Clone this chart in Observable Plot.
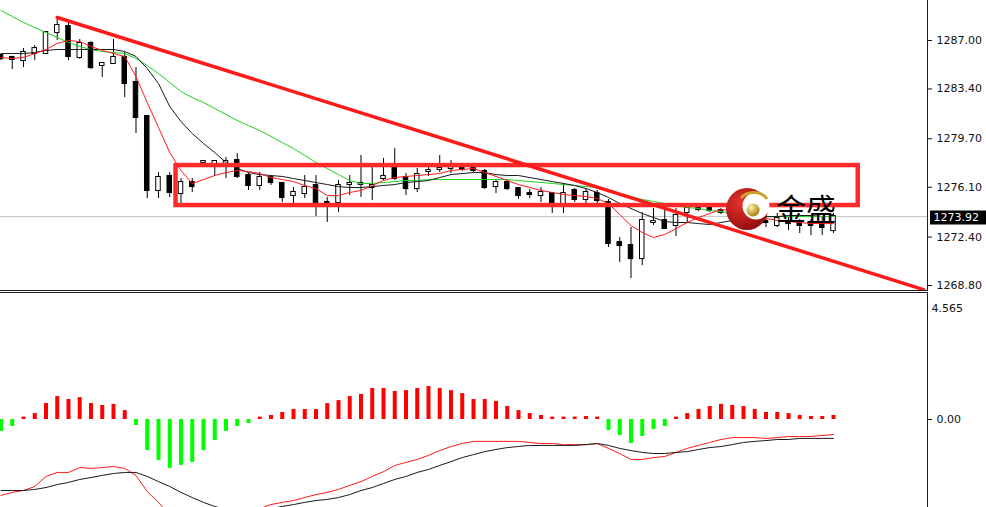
<!DOCTYPE html>
<html><head><meta charset="utf-8">
<script src="https://cdn.jsdelivr.net/npm/d3@7"></script>
<script src="https://cdn.jsdelivr.net/npm/@observablehq/plot@0.6"></script>
<style>
html,body{margin:0;padding:0;background:#fff;}
#wrap{position:relative;width:986px;height:507px;overflow:hidden;background:#fff;}
#top{position:absolute;left:0;top:0;}
#bot{position:absolute;left:0;top:291px;}
#logo{position:absolute;left:0;top:0;pointer-events:none;}
svg{display:block;}
</style></head><body>
<div id="wrap"><div id="top"></div><div id="bot"></div>
<svg id="logo" width="986" height="507">
  <defs>
    <radialGradient id="rg" cx="35%" cy="35%" r="75%"><stop offset="0" stop-color="#e8322e"/><stop offset="1" stop-color="#8a0a0a"/></radialGradient>
    <radialGradient id="gg" cx="35%" cy="30%" r="70%"><stop offset="0" stop-color="#fff6b0"/><stop offset="1" stop-color="#a8820c"/></radialGradient>
  </defs>
  <circle cx="747" cy="209" r="21" fill="url(#rg)"/>
  <circle cx="756" cy="206" r="13.5" fill="#fff"/>
  <path d="M741,198 A15,12 0 0 1 767,199" stroke="#c9a227" stroke-width="3" fill="none"/>
  <circle cx="753" cy="210" r="6.5" fill="url(#gg)"/>
  <text x="776" y="220" font-family="Noto Sans CJK SC" font-size="30" fill="#000">金盛</text>
</svg>
</div>
<script>
// ---- price candles (index 0..74) ----
const opens = [1285.88,1285.74,1285.51,1286.03,1286.03,1287.59,1288.04,1285.74,1286.78,1285.14,
1285.29,1285.74,1283.88,1281.35,1275.86,1276.90,1275.63,1276.45,1277.94,1277.71,
1277.79,1278.08,1276.97,1276.23,1276.82,1276.38,1275.48,1275.63,1276.23,1274.96,
1274.96,1276.30,1276.30,1276.08,1276.75,1277.49,1276.82,1276.00,1277.27,1277.42,
1277.49,1277.49,1277.49,1277.27,1276.15,1276.45,1276.00,1275.63,1275.48,1275.63,
1274.89,1275.86,1275.19,1275.63,1274.96,1271.99,1271.77,1270.80,1273.48,1273.63,
1273.26,1274.22,1274.52,1274.52,1274.37,1274.30,1274.15,1274.07,1273.55,1273.26,
1273.55,1273.48,1273.40,1273.48,1272.88];
const highs = [1285.96,1285.81,1286.40,1286.63,1287.67,1288.71,1288.34,1287.07,1286.92,1285.36,
1287.07,1286.11,1284.99,1281.43,1277.19,1277.19,1276.75,1276.75,1278.08,1278.08,
1278.31,1278.60,1277.12,1277.19,1276.97,1276.45,1276.08,1276.97,1276.97,1275.34,
1276.60,1276.97,1278.46,1277.56,1278.23,1278.98,1277.12,1277.49,1277.64,1278.46,
1278.08,1277.71,1277.71,1277.42,1276.60,1276.60,1276.08,1275.93,1276.08,1275.71,
1276.38,1276.00,1276.00,1275.86,1275.19,1272.36,1273.11,1274.22,1274.52,1274.37,
1274.52,1274.67,1274.67,1274.59,1274.52,1274.52,1274.37,1274.22,1274.15,1274.15,
1273.85,1273.70,1273.70,1273.85,1274.15];
const lows = [1285.51,1284.84,1284.99,1285.51,1285.96,1287.00,1285.51,1285.59,1284.84,1284.25,
1285.22,1282.76,1280.09,1275.26,1275.26,1275.34,1274.74,1275.71,1277.64,1276.90,
1276.75,1276.75,1275.86,1275.86,1276.23,1274.96,1274.89,1275.26,1273.92,1273.48,
1274.22,1275.48,1275.34,1275.11,1276.60,1276.60,1275.48,1275.71,1276.90,1277.19,
1277.12,1277.27,1277.19,1275.93,1275.63,1275.86,1275.19,1275.26,1274.96,1274.15,
1274.15,1274.96,1274.89,1274.89,1271.62,1270.51,1269.32,1270.28,1273.26,1273.03,
1272.44,1273.40,1274.30,1274.22,1274.07,1274.00,1273.78,1273.63,1273.11,1273.11,
1272.88,1272.66,1272.51,1272.51,1272.66];
const closes = [1285.66,1285.59,1286.11,1286.40,1287.59,1288.11,1285.81,1286.78,1284.99,1285.29,
1285.74,1283.80,1281.28,1275.86,1276.82,1275.71,1276.45,1276.15,1278.01,1278.01,
1278.01,1276.90,1276.23,1276.82,1276.45,1275.34,1275.71,1276.08,1274.89,1274.89,
1276.23,1276.38,1276.38,1276.23,1276.90,1276.75,1276.00,1277.04,1277.34,1277.49,
1277.56,1277.42,1277.34,1276.08,1276.45,1276.00,1275.48,1275.56,1275.71,1274.89,
1275.63,1275.19,1275.71,1275.11,1271.92,1271.77,1270.80,1273.63,1273.55,1273.03,
1274.00,1274.52,1274.44,1274.37,1274.22,1274.15,1274.00,1273.85,1273.48,1273.78,
1273.40,1273.26,1273.26,1273.11,1273.92];

// ---- moving averages ----
const maFast = [1285.74,1285.66,1285.74,1286.03,1286.33,1286.78,1287.00,1286.92,1286.55,1286.26,
1286.03,1285.81,1284.32,1282.39,1280.54,1278.68,1277.34,1276.38,1276.67,1276.97,
1277.19,1277.34,1277.27,1277.12,1276.82,1276.67,1276.52,1276.23,1276.00,1275.48,
1275.48,1275.71,1275.86,1276.23,1276.60,1276.82,1276.90,1276.97,1277.04,1277.12,
1277.34,1277.42,1277.49,1277.19,1276.90,1276.60,1276.30,1276.08,1275.86,1275.71,
1275.56,1275.48,1275.41,1275.26,1274.89,1274.07,1273.26,1272.74,1272.36,1272.59,
1273.03,1273.48,1273.85,1274.15,1274.44,1274.37,1274.22,1274.00,1273.78,1273.63,
1273.55,1273.48,1273.40,1273.40,1273.40];
const maMid = [1286.03,1286.03,1286.03,1286.11,1286.26,1286.33,1286.33,1286.33,1286.33,1286.33,
1286.33,1286.18,1285.81,1284.92,1283.80,1282.10,1280.98,1280.09,1279.35,1278.68,
1277.94,1277.49,1277.19,1277.04,1276.97,1276.90,1276.75,1276.60,1276.45,1276.30,
1276.15,1276.08,1276.08,1276.15,1276.23,1276.30,1276.45,1276.52,1276.60,1276.82,
1277.04,1277.12,1277.19,1277.19,1277.04,1276.97,1276.97,1276.82,1276.67,1276.52,
1276.38,1276.23,1276.00,1275.71,1275.34,1274.89,1274.52,1274.15,1273.85,1273.55,
1273.48,1273.48,1273.40,1273.33,1273.48,1273.63,1273.78,1273.85,1273.92,1273.92,
1274.00,1274.00,1274.00,1274.07,1274.07];
const maSlow = [1289.23,1288.78,1288.34,1287.96,1287.59,1287.22,1286.85,1286.55,1286.33,1286.18,
1286.11,1286.03,1285.66,1285.14,1284.55,1283.88,1283.21,1282.76,1282.39,1281.95,
1281.50,1281.06,1280.68,1280.31,1279.87,1279.42,1278.98,1278.46,1277.94,1277.49,
1277.04,1276.60,1276.38,1276.38,1276.45,1276.52,1276.60,1276.60,1276.67,1276.67,
1276.67,1276.67,1276.67,1276.67,1276.67,1276.67,1276.60,1276.52,1276.45,1276.38,
1276.30,1276.23,1276.15,1276.08,1275.93,1275.63,1275.41,1275.19,1275.04,1274.89,
1274.74,1274.59,1274.52,1274.37,1274.30,1274.15,1274.07,1274.00,1273.92,1273.92,
1273.92,1273.92,1273.92,1273.92,1273.92];

// ---- drawn objects ----
const trendIdx = [5, 82];
const trendPrice = [1288.71, 1268.50];
const boxIdx = [15.56, 76.2];
const boxPrice = [1277.71, 1274.74];
const lastPrice = 1273.92;
const priceTicks = [1287.00, 1283.40, 1279.70, 1276.10, 1272.40, 1268.80];

// ---- MACD ----
const histVals = [-0.44,-0.26,0.09,0.22,0.59,0.85,0.74,0.81,0.59,0.52,
0.56,0.33,-0.22,-1.15,-1.52,-1.81,-1.70,-1.59,-1.15,-0.78,
-0.44,-0.26,-0.15,0.09,0.15,0.26,0.37,0.37,0.37,0.59,
0.70,0.85,0.93,1.15,1.15,1.04,1.07,1.15,1.22,1.15,
1.07,0.96,0.74,0.74,0.67,0.48,0.33,0.22,0.15,0.09,
0.09,0.09,0.11,0.09,-0.41,-0.59,-0.89,-0.63,-0.37,-0.26,
0.09,0.22,0.37,0.48,0.56,0.52,0.48,0.37,0.26,0.26,
0.22,0.15,0.11,0.11,0.15];
const difVals = [-2.81,-2.70,-2.63,-2.48,-2.11,-1.96,-1.96,-1.78,-1.81,-1.78,
-1.74,-1.81,-2.07,-2.67,-3.07,-3.56,-3.93,-4.11,-4.19,-4.11,
-3.93,-3.70,-3.48,-3.30,-3.15,-3.07,-3.00,-2.89,-2.78,-2.70,
-2.59,-2.44,-2.30,-2.11,-1.93,-1.70,-1.59,-1.48,-1.33,-1.15,
-1.00,-0.89,-0.81,-0.81,-0.81,-0.81,-0.81,-0.85,-0.89,-0.89,
-0.93,-0.93,-0.93,-0.89,-1.07,-1.26,-1.48,-1.48,-1.41,-1.37,
-1.22,-1.07,-0.96,-0.85,-0.74,-0.67,-0.67,-0.67,-0.70,-0.67,
-0.63,-0.63,-0.63,-0.59,-0.56];
const deaVals = [-2.63,-2.63,-2.63,-2.59,-2.52,-2.41,-2.33,-2.22,-2.15,-2.07,
-2.00,-1.96,-1.96,-2.11,-2.30,-2.48,-2.70,-2.89,-3.07,-3.22,
-3.33,-3.41,-3.41,-3.37,-3.30,-3.22,-3.15,-3.07,-3.00,-2.96,
-2.89,-2.78,-2.63,-2.52,-2.37,-2.22,-2.11,-1.96,-1.85,-1.70,
-1.56,-1.41,-1.30,-1.19,-1.11,-1.04,-1.00,-0.96,-0.96,-0.96,
-0.96,-0.96,-0.93,-0.89,-0.96,-1.07,-1.15,-1.22,-1.26,-1.26,
-1.22,-1.19,-1.11,-1.04,-1.00,-0.93,-0.85,-0.81,-0.78,-0.74,
-0.74,-0.70,-0.70,-0.70,-0.70];
const macdTopLabel = 4.565;
const macdTicks = [0];

// ---- build tables ----
const candles = opens.map((o, i) => ({i, o, h: highs[i], l: lows[i], c: closes[i]}));
const ser = arr => arr.map((v, i) => ({i, v}));
const trend = trendIdx.map((x, k) => ({x, y: trendPrice[k]}));
const box = [{x1: boxIdx[0], x2: boxIdx[1], y1: boxPrice[0], y2: boxPrice[1]}];
const hist = ser(histVals);

const W = 986, MR = 59;
const pxPerBar = 11.25;
const xDomain = [-0.044, -0.044 + (W - MR) / pxPerBar];
const font = {fontFamily: "DejaVu Sans, sans-serif", fontSize: "11px", color: "#111", background: "#fff", overflow: "visible"};

const topChart = Plot.plot({
  width: W, height: 291, marginLeft: 0, marginRight: MR, marginTop: 0, marginBottom: 1,
  x: {domain: xDomain, axis: null},
  y: {domain: [1268.43, 1289.97], axis: null},
  style: font,
  marks: [
    Plot.ruleY([lastPrice], {stroke: "#c4c4c4", strokeWidth: 1}),
    Plot.ruleX(candles, {x: "i", y1: "l", y2: "h", stroke: "#000", strokeWidth: 1, clip: true}),
    Plot.rect(candles, {x1: d => d.i - 0.2, x2: d => d.i + 0.2, y1: "o", y2: "c",
      fill: d => d.c >= d.o ? "#fff" : "#000", stroke: "#000", strokeWidth: 1,
      insetTop: -0.5, insetBottom: -0.5, clip: true}),
    Plot.line(ser(maSlow), {x: "i", y: "v", stroke: "#1ed21e", strokeWidth: 1, clip: true}),
    Plot.line(ser(maMid), {x: "i", y: "v", stroke: "#1a1a1a", strokeWidth: 1, clip: true}),
    Plot.line(ser(maFast), {x: "i", y: "v", stroke: "#ff1a1a", strokeWidth: 1, clip: true}),
    Plot.rect(box, {x1: "x1", x2: "x2", y1: "y1", y2: "y2", fill: "none", stroke: "#ff2a2a", strokeWidth: 4.5}),
    Plot.line(trend, {x: "x", y: "y", stroke: "#ff1a1a", strokeWidth: 3.5, clip: true}),
    Plot.axisY(priceTicks, {anchor: "right", label: null, tickSize: 4, tickPadding: 5, tickFormat: d => d.toFixed(2), stroke: "#111", fill: "#111"}),
    Plot.ruleY([lastPrice], {x1: xDomain[1] + 3 / pxPerBar, x2: xDomain[1] + 59 / pxPerBar, dy: 1, stroke: "#000", strokeWidth: 14}),
    Plot.text([lastPrice], {y: d => d, x: xDomain[1] + 6 / pxPerBar, dy: 1, text: d => d.toFixed(2), fill: "#fff", textAnchor: "start", fontSize: 11}),
    Plot.frame({anchor: "right", stroke: "#222"}),
    Plot.frame({anchor: "bottom", stroke: "#222"})
  ]
});
document.getElementById("top").append(topChart);

const botChart = Plot.plot({
  width: W, height: 216, marginLeft: 0, marginRight: MR, marginTop: 1, marginBottom: 0,
  x: {domain: xDomain, axis: null},
  y: {domain: [-3.259, 4.704], axis: null},
  style: font,
  marks: [
    Plot.ruleX(hist, {x: "i", y1: 0, y2: "v", stroke: d => d.v >= 0 ? "#ff0000" : "#00ff00", strokeWidth: 4, clip: true}),
    Plot.line(ser(difVals), {x: "i", y: "v", stroke: "#ff1a1a", strokeWidth: 1, clip: true}),
    Plot.line(ser(deaVals), {x: "i", y: "v", stroke: "#1a1a1a", strokeWidth: 1, clip: true}),
    Plot.axisY(macdTicks, {anchor: "right", label: null, tickSize: 4, tickPadding: 5, tickFormat: d => d.toFixed(2), stroke: "#111", fill: "#111"}),
    Plot.text([macdTopLabel], {frameAnchor: "top-right", text: d => d.toFixed(3), dx: 4, dy: 12, textAnchor: "start", fill: "#111"}),
    Plot.frame({anchor: "top", stroke: "#222"}),
    Plot.frame({anchor: "right", stroke: "#222"})
  ]
});
document.getElementById("bot").append(botChart);
</script>
</body></html>
